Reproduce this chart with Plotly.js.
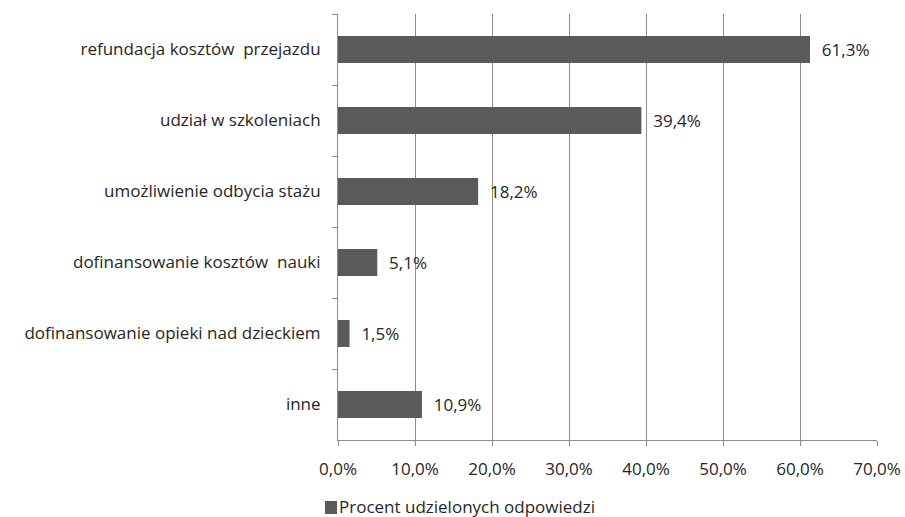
<!DOCTYPE html>
<html>
<head>
<meta charset="utf-8">
<script src="https://cdn.plot.ly/plotly-3.0.1.min.js"></script>
<style>html,body{margin:0;padding:0;background:#fff;}#chart{width:905px;height:517px;}</style>
</head>
<body>
<div id="chart"></div>
<script>
var categories = [
  "refundacja kosztów  przejazdu",
  "udział w szkoleniach",
  "umożliwienie odbycia stażu",
  "dofinansowanie kosztów  nauki",
  "dofinansowanie opieki nad dzieckiem",
  "inne"
];
var values = [61.3, 39.4, 18.2, 5.1, 1.5, 10.9];
var seriesName = "Procent udzielonych odpowiedzi";
var xTickVals = [0, 10, 20, 30, 40, 50, 60, 70];

function pl(v){ return v.toFixed(1).replace(".", ",") + "%"; }

var font = "Open Sans, sans-serif";
var textColor = "#262626";
var barColor = "#5a5a5a";
var gridColor = "#8c8c8c";

var trace = {
  type: "bar",
  orientation: "h",
  y: categories,
  x: values,
  name: seriesName,
  marker: {color: barColor},
  width: 0.38,
  text: values.map(function(v){ return "\u00a0\u00a0" + pl(v); }),
  textposition: "outside",
  textfont: {family: font, size: 17, color: textColor},
  cliponaxis: false,
  hoverinfo: "none",
  showlegend: false
};

// legend drawn as a square + label below the axis
var L = 338, R = 877, T = 14, B = 440;
function px2x(px){ return (px - L) / (R - L); }
function py2y(py){ return (B - py) / (B - T); }

var layout = {
  width: 905, height: 517,
  margin: {l: 338, r: 28, t: 14, b: 77},
  paper_bgcolor: "#fff", plot_bgcolor: "#fff",
  font: {family: font, size: 17, color: textColor},
  showlegend: false,
  xaxis: {
    range: [0, 70], tickvals: xTickVals, ticktext: xTickVals.map(pl),
    showgrid: true, gridcolor: gridColor, gridwidth: 1,
    showline: true, linecolor: gridColor, ticks: "outside", ticklen: 5, tickcolor: gridColor,
    zeroline: false, fixedrange: true, ticklabelstandoff: 9,
    tickfont: {family: font, size: 17, color: textColor}
  },
  yaxis: {
    type: "category", autorange: "reversed", tickson: "boundaries",
    showgrid: false, showline: true, linecolor: gridColor,
    ticks: "outside", ticklen: 5, tickcolor: gridColor, ticklabelstandoff: 13,
    tickfont: {family: font, size: 17, color: textColor}
  },
  shapes: [{
    type: "rect", xref: "paper", yref: "paper",
    x0: px2x(325), x1: px2x(337), y0: py2y(514), y1: py2y(501),
    fillcolor: barColor, line: {width: 0}
  }],
  annotations: [{
    xref: "paper", yref: "paper", x: px2x(337), y: py2y(506),
    xanchor: "left", yanchor: "middle", showarrow: false,
    text: seriesName, font: {family: font, size: 17, color: textColor}
  }]
};
Plotly.newPlot("chart", [trace], layout, {displayModeBar: false, staticPlot: true});
</script>
</body>
</html>
